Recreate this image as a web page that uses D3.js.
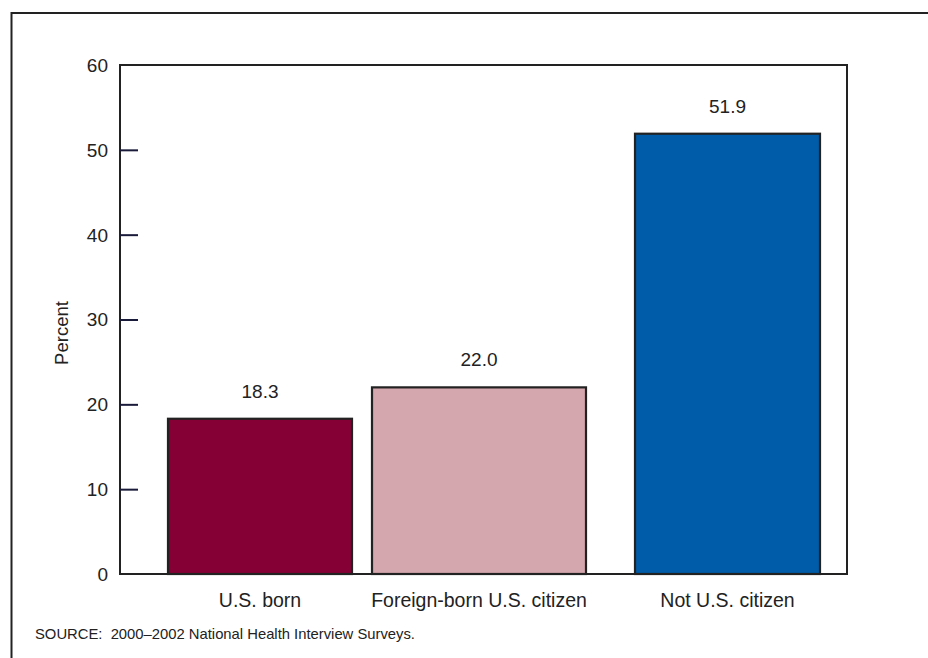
<!DOCTYPE html>
<html><head><meta charset="utf-8">
<script src="https://cdn.jsdelivr.net/npm/d3@7"></script>
<style>html,body{margin:0;padding:0;background:#fff;}svg{display:block;}</style>
</head><body>
<script>
const categories = ["U.S. born", "Foreign-born U.S. citizen", "Not U.S. citizen"];
const values = [18.3, 22.0, 51.9];
const valueLabels = ["18.3", "22.0", "51.9"];
const colors = ["#850035", "#d4a6ad", "#005ba8"];
const yTicks = [0, 10, 20, 30, 40, 50, 60];

const W = 928, H = 658;
const font = "Liberation Sans, Arial, Helvetica, sans-serif";
const svg = d3.select("body").append("svg").attr("width", W).attr("height", H);

// outer frame
svg.append("path").attr("d", `M11.5,${H+5} V13 H${W+5}`)
  .attr("fill", "none").attr("stroke", "#222").attr("stroke-width", 2);

const pLeft = 120, pRight = 847, pTop = 65, pBottom = 574;
const y = d3.scaleLinear().domain([0, 60]).range([pBottom, pTop]);
const xCenter = d3.scaleOrdinal().domain(categories).range([260, 479, 727.5]);
const xWidth = d3.scaleOrdinal().domain(categories).range([184, 214, 185]);

// bars
svg.selectAll("rect.bar").data(categories).join("rect")
  .attr("class", "bar")
  .attr("x", c => xCenter(c) - xWidth(c) / 2)
  .attr("width", c => xWidth(c))
  .attr("y", (c, i) => y(values[i]))
  .attr("height", (c, i) => y(0) - y(values[i]))
  .attr("fill", (c, i) => colors[i])
  .attr("stroke", "#222").attr("stroke-width", 2.2);

// value labels
svg.selectAll("text.val").data(categories).join("text")
  .attr("class", "val")
  .attr("x", c => xCenter(c))
  .attr("y", (c, i) => y(values[i]) - 21)
  .attr("text-anchor", "middle")
  .attr("font-family", font).attr("font-size", 19).attr("fill", "#222")
  .text((c, i) => valueLabels[i]);

// plot frame
svg.append("path").attr("d", `M${pLeft},${pBottom} V${pTop} H${pRight} V${pBottom} Z`)
  .attr("fill", "none").attr("stroke", "#222").attr("stroke-width", 2);

// y axis ticks (inward)
const yAxis = d3.axisRight(y).tickValues(yTicks.slice(1, -1)).tickSize(18).tickFormat("");
const gy = svg.append("g").attr("transform", `translate(${pLeft},0)`).call(yAxis);
gy.select(".domain").remove();
gy.selectAll(".tick line").attr("stroke", "#1a1a3a").attr("stroke-width", 2);

svg.selectAll("text.ytl").data(yTicks).join("text")
  .attr("class", "ytl")
  .attr("x", 108).attr("y", d => y(d))
  .attr("dy", "0.36em")
  .attr("text-anchor", "end")
  .attr("font-family", font).attr("font-size", 19).attr("fill", "#222")
  .text(d => d);

// category labels
svg.selectAll("text.cat").data(categories).join("text")
  .attr("class", "cat")
  .attr("x", c => xCenter(c)).attr("y", 607)
  .attr("text-anchor", "middle")
  .attr("font-family", font).attr("font-size", 19.5).attr("fill", "#222")
  .text(c => c);

// y axis title
svg.append("text")
  .attr("transform", `translate(68,333) rotate(-90)`)
  .attr("text-anchor", "middle")
  .attr("font-family", font).attr("font-size", 18.5).attr("fill", "#222")
  .text("Percent");

// source
svg.append("text")
  .attr("x", 35).attr("y", 639)
  .attr("font-family", font).attr("font-size", 14.8).attr("fill", "#222")
  .text("SOURCE:\u00a0 2000–2002 National Health Interview Surveys.");
</script>
</body></html>
